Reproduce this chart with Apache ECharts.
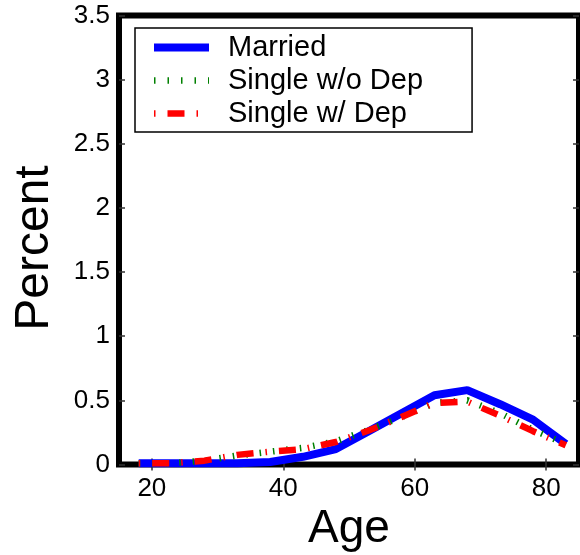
<!DOCTYPE html>
<html>
<head>
<meta charset="utf-8">
<script src="https://cdn.jsdelivr.net/npm/echarts@6/dist/echarts.min.js"></script>
<style>
html,body{margin:0;padding:0;background:#fff;}
#chart{width:580px;height:555px;}
</style>
</head>
<body>
<div id="chart"></div>
<script>
const ages = [18, 23, 28, 33, 38, 43, 48, 53, 58, 63, 68, 73, 78, 83];
const married = [0.01, 0.01, 0.01, 0.01, 0.02, 0.06, 0.12, 0.26, 0.40, 0.54, 0.58, 0.47, 0.35, 0.16];
const singleNoDep = [0.01, 0.01, 0.03, 0.07, 0.10, 0.13, 0.18, 0.27, 0.37, 0.48, 0.50, 0.40, 0.27, 0.16];
const singleDep = [0.01, 0.01, 0.03, 0.075, 0.10, 0.12, 0.175, 0.265, 0.37, 0.48, 0.49, 0.38, 0.26, 0.15];
const xTicks = [20, 40, 60, 80];
const seriesNames = ['Married', 'Single w/o Dep', 'Single w/ Dep'];

const font = 'Liberation Sans, Arial, Helvetica, sans-serif';
const pairs = arr => ages.map((a, i) => [a, arr[i]]);

const styles = [
  {color: '#0000ff', width: 8, type: 'solid', cap: 'butt'},
  {color: '#008000', width: 6.5, type: [1.5, 12], cap: 'butt'},
  {color: '#ff0000', width: 6.5, type: [1.5, 12, 17, 12], cap: 'butt'}
];
const values = [married, singleNoDep, singleDep];

const chart = echarts.init(document.getElementById('chart'), null, {renderer: 'canvas'});
const tickStyle = {show: true, inside: true, length: 6, lineStyle: {color: '#333', width: 1.5}};
chart.setOption({
  backgroundColor: '#fff',
  animation: false,
  grid: {
    left: 119, right: 1, top: 15.5, bottom: 90.5,
    show: true, borderColor: '#000', borderWidth: 6, backgroundColor: 'transparent',
    outerBoundsMode: 'none'
  },
  legend: {
    orient: 'vertical',
    left: 135, top: 28,
    data: seriesNames.map((n, i) => ({name: n, lineStyle: Object.assign({}, styles[i]), itemStyle: {opacity: 0}})),
    itemStyle: {opacity: 0},
    itemWidth: 55, itemHeight: 14, itemGap: 4,
    padding: [5, 49, 4, 15],
    borderColor: '#000', borderWidth: 1.5,
    backgroundColor: '#fff',
    textStyle: {fontFamily: font, fontSize: 29, color: '#000', padding: [0, 0, 0, 14]}
  },
  xAxis: [{
    type: 'value', min: 15, max: 85, position: 'bottom',
    name: 'Age', nameLocation: 'middle', nameGap: 41,
    nameTextStyle: {fontFamily: font, fontSize: 46, color: '#000'},
    axisLine: {show: false},
    splitLine: {show: false},
    axisTick: Object.assign({customValues: xTicks}, tickStyle),
    axisLabel: {customValues: xTicks, fontFamily: font, fontSize: 26, color: '#000', margin: 11}
  }, {
    type: 'value', min: 15, max: 85, position: 'top',
    axisLine: {show: false}, splitLine: {show: false},
    axisTick: Object.assign({customValues: xTicks}, tickStyle),
    axisLabel: {show: false}
  }],
  yAxis: [{
    type: 'value', min: 0, max: 3.5, interval: 0.5, position: 'left',
    name: 'Percent', nameLocation: 'middle', nameGap: 60,
    nameTextStyle: {fontFamily: font, fontSize: 48, color: '#000', padding: [0, 16, 0, 0]},
    axisLine: {show: false}, splitLine: {show: false},
    axisTick: tickStyle,
    axisLabel: {fontFamily: font, fontSize: 26, color: '#000', margin: 9, padding: [6, 0, 0, 0]}
  }, {
    type: 'value', min: 0, max: 3.5, interval: 0.5, position: 'right',
    axisLine: {show: false}, splitLine: {show: false},
    axisTick: tickStyle, axisLabel: {show: false}
  }],
  series: seriesNames.map((n, i) => ({
    name: n, type: 'line', data: pairs(values[i]),
    symbol: 'none', smooth: false, color: styles[i].color,
    lineStyle: Object.assign({}, styles[i])
  }))
});
</script>
</body>
</html>
